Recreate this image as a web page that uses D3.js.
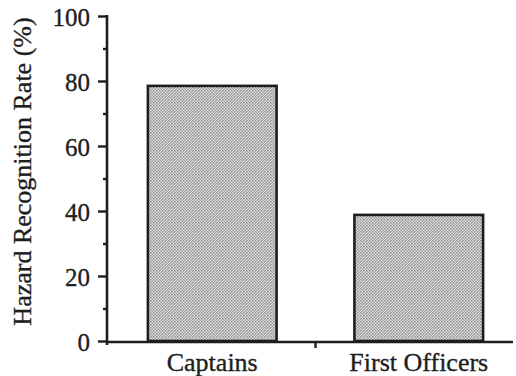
<!DOCTYPE html>
<html><head><meta charset="utf-8">
<script src="https://cdn.jsdelivr.net/npm/d3@7"></script>
<style>body{margin:0;background:#fff}svg{display:block}text{font-family:"Liberation Serif","Times New Roman",serif;fill:#1e1e1e;stroke:#1e1e1e;stroke-width:0.35px}</style>
</head><body>
<svg id="c" width="516" height="376"></svg>
<script>
const categories = ["Captains", "First Officers"];
const values = [78.5, 38.8];
const yTicks = [0, 20, 40, 60, 80, 100];
const yMinorTicks = [10, 30, 50, 70, 90];
const yTitle = "Hazard Recognition Rate (%)";

const svg = d3.select("#c");
const defs = svg.append("defs");
const pat = defs.append("pattern").attr("id","dots").attr("patternUnits","userSpaceOnUse").attr("width",3).attr("height",3);
pat.append("rect").attr("width",3).attr("height",3).attr("fill","#e2e2e2");
pat.append("rect").attr("x",0).attr("y",0).attr("width",1.5).attr("height",1.5).attr("fill","#8a8a8a");
pat.append("rect").attr("x",1.5).attr("y",1.5).attr("width",1.5).attr("height",1.5).attr("fill","#9a9a9a");

const x0 = 107, x1 = 524, yBot = 341, yTop = 16;
const y = d3.scaleLinear().domain([0,100]).range([yBot,yTop]);
const x = d3.scaleBand().domain(categories).range([x0, x1]).paddingInner(0.377).paddingOuter(0.198);

// bars
svg.selectAll("rect.bar").data(values).enter().append("rect").attr("class","bar")
  .attr("x",(d,i)=>x(categories[i]))
  .attr("width",x.bandwidth())
  .attr("y",d=>y(d))
  .attr("height",d=>yBot-y(d))
  .attr("fill","url(#dots)")
  .attr("stroke","#1e1e1e").attr("stroke-width",2.6);

// y axis
const yAxis = d3.axisLeft(y).tickValues(yTicks).tickSize(9).tickPadding(8).tickFormat(d3.format("d"));
const gy = svg.append("g").attr("transform",`translate(${x0},0)`).call(yAxis);
gy.select(".domain").remove();
gy.selectAll(".tick line").attr("stroke","#1e1e1e").attr("stroke-width",2.4);
gy.selectAll(".tick text").attr("font-size",25).attr("dy","0.36em");
const gym = svg.append("g").attr("transform",`translate(${x0},0)`).call(d3.axisLeft(y).tickValues(yMinorTicks).tickSize(4).tickFormat(""));
gym.select(".domain").remove();
gym.selectAll(".tick line").attr("stroke","#1e1e1e").attr("stroke-width",2.4);
svg.append("line").attr("x1",x0).attr("x2",x0).attr("y1",y(100)-1).attr("y2",yBot+4).attr("stroke","#1e1e1e").attr("stroke-width",2.6);

// x axis
const xAxis = d3.axisBottom(x).tickSize(0).tickPadding(11);
const gx = svg.append("g").attr("transform",`translate(0,${yBot+1})`).call(xAxis);
gx.select(".domain").remove();
gx.selectAll(".tick text").attr("font-size",26);
svg.append("line").attr("x1",x0).attr("x2",513).attr("y1",yBot+1).attr("y2",yBot+1).attr("stroke","#1e1e1e").attr("stroke-width",2.6);
// middle tick between categories
const mid = (x(categories[0])+x.bandwidth() + x(categories[1]))/2;
svg.append("line").attr("x1",mid).attr("x2",mid).attr("y1",yBot+1).attr("y2",yBot+7).attr("stroke","#1e1e1e").attr("stroke-width",2.4);

// y title
svg.append("text").attr("transform",`translate(31,${(15+328)/2}) rotate(-90)`)
  .attr("text-anchor","middle").attr("font-size",26).text(yTitle);
</script>
</body></html>
